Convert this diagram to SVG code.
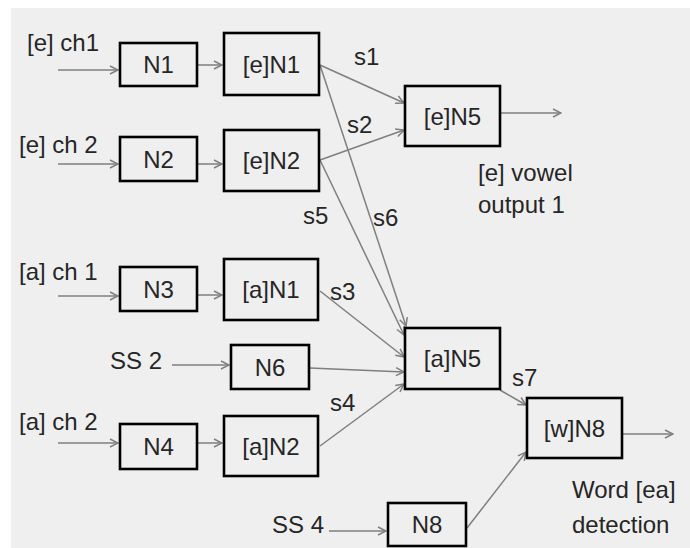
<svg xmlns="http://www.w3.org/2000/svg" width="690" height="548" viewBox="0 0 690 548">
<style>
.bx{fill:none;stroke:#000;stroke-width:2.6}
.t{font-family:"Liberation Sans",Arial,sans-serif;font-size:24px;fill:#262626}
.c{text-anchor:middle}
.ln{stroke:#7f7f7f;stroke-width:1.5;fill:none;marker-end:url(#ah)}
</style>
<defs>
<marker id="ah" viewBox="0 0 10 10" refX="9" refY="5" markerWidth="10" markerHeight="10" markerUnits="userSpaceOnUse" orient="auto">
<path d="M1,1 L9,5 L1,9" fill="none" stroke="#7f7f7f" stroke-width="1.5"/>
</marker>
</defs>
<rect x="0" y="0" width="690" height="548" fill="#ffffff"/>
<rect x="11" y="8" width="679" height="540" fill="#efefef"/>
<g id="connectors">
<line class="ln" x1="58" y1="70" x2="118" y2="70"/>
<line class="ln" x1="198" y1="65" x2="222" y2="65"/>
<line class="ln" x1="58" y1="164" x2="118" y2="164"/>
<line class="ln" x1="198" y1="164" x2="222" y2="164"/>
<line class="ln" x1="58" y1="296" x2="118" y2="296"/>
<line class="ln" x1="198" y1="295" x2="222" y2="295"/>
<line class="ln" x1="172" y1="365" x2="229" y2="365"/>
<line class="ln" x1="58" y1="443" x2="118" y2="443"/>
<line class="ln" x1="198" y1="443" x2="222" y2="443"/>
<line class="ln" x1="329" y1="531" x2="386" y2="531"/>
<line class="ln" x1="320" y1="65" x2="404" y2="103"/>
<line class="ln" x1="320" y1="160" x2="404" y2="130"/>
<line class="ln" x1="320" y1="65" x2="406" y2="326"/>
<line class="ln" x1="320" y1="160" x2="404" y2="335"/>
<line class="ln" x1="320" y1="291" x2="404" y2="357"/>
<line class="ln" x1="310" y1="368" x2="404" y2="372"/>
<line class="ln" x1="320" y1="446" x2="404" y2="384"/>
<line class="ln" x1="501" y1="113" x2="561" y2="113"/>
<line class="ln" x1="500" y1="390" x2="526" y2="405"/>
<line class="ln" x1="467" y1="528" x2="526" y2="452"/>
<line class="ln" x1="623" y1="434" x2="673" y2="434"/>
</g>
<g id="N1"><rect class="bx" x="120" y="43" width="77" height="43"/><text class="t c" x="158.5" y="73">N1</text></g>
<g id="eN1"><rect class="bx" x="224" y="33" width="95" height="62"/><text class="t c" x="271.5" y="73">[e]N1</text></g>
<g id="N2"><rect class="bx" x="120" y="137" width="77" height="44"/><text class="t c" x="158.5" y="168">N2</text></g>
<g id="eN2"><rect class="bx" x="224" y="130" width="95" height="61"/><text class="t c" x="271.5" y="169">[e]N2</text></g>
<g id="N3"><rect class="bx" x="120" y="267" width="77" height="44"/><text class="t c" x="158.5" y="298">N3</text></g>
<g id="aN1"><rect class="bx" x="224" y="259" width="94" height="61"/><text class="t c" x="271" y="298">[a]N1</text></g>
<g id="N6"><rect class="bx" x="231" y="345" width="78" height="44"/><text class="t c" x="270" y="376">N6</text></g>
<g id="N4"><rect class="bx" x="120" y="424" width="77" height="45"/><text class="t c" x="158.5" y="455">N4</text></g>
<g id="aN2"><rect class="bx" x="224" y="416" width="94" height="60"/><text class="t c" x="271" y="455">[a]N2</text></g>
<g id="eN5"><rect class="bx" x="405" y="86" width="95" height="60"/><text class="t c" x="452.5" y="125">[e]N5</text></g>
<g id="aN5"><rect class="bx" x="405" y="328" width="95" height="61"/><text class="t c" x="452.5" y="367">[a]N5</text></g>
<g id="wN8"><rect class="bx" x="527" y="398" width="95" height="60"/><text class="t c" x="574.5" y="437">[w]N8</text></g>
<g id="N8"><rect class="bx" x="388" y="503" width="78" height="43"/><text class="t c" x="427" y="533">N8</text></g>
<g id="labels">
<text class="t" x="27" y="51">[e] ch1</text>
<text class="t" x="19" y="153">[e] ch 2</text>
<text class="t" x="19" y="280">[a] ch 1</text>
<text class="t" x="110" y="369">SS 2</text>
<text class="t" x="19" y="430">[a] ch 2</text>
<text class="t" x="272" y="533">SS 4</text>
<text class="t" x="354" y="65">s1</text>
<text class="t" x="347" y="133">s2</text>
<text class="t" x="303" y="224">s5</text>
<text class="t" x="373" y="226">s6</text>
<text class="t" x="330" y="300">s3</text>
<text class="t" x="330" y="411">s4</text>
<text class="t" x="512" y="386">s7</text>
<text class="t" x="478" y="181">[e] vowel</text>
<text class="t" x="478" y="213">output 1</text>
<text class="t" x="572" y="498">Word [ea]</text>
<text class="t" x="572" y="533">detection</text>
</g>
</svg>
